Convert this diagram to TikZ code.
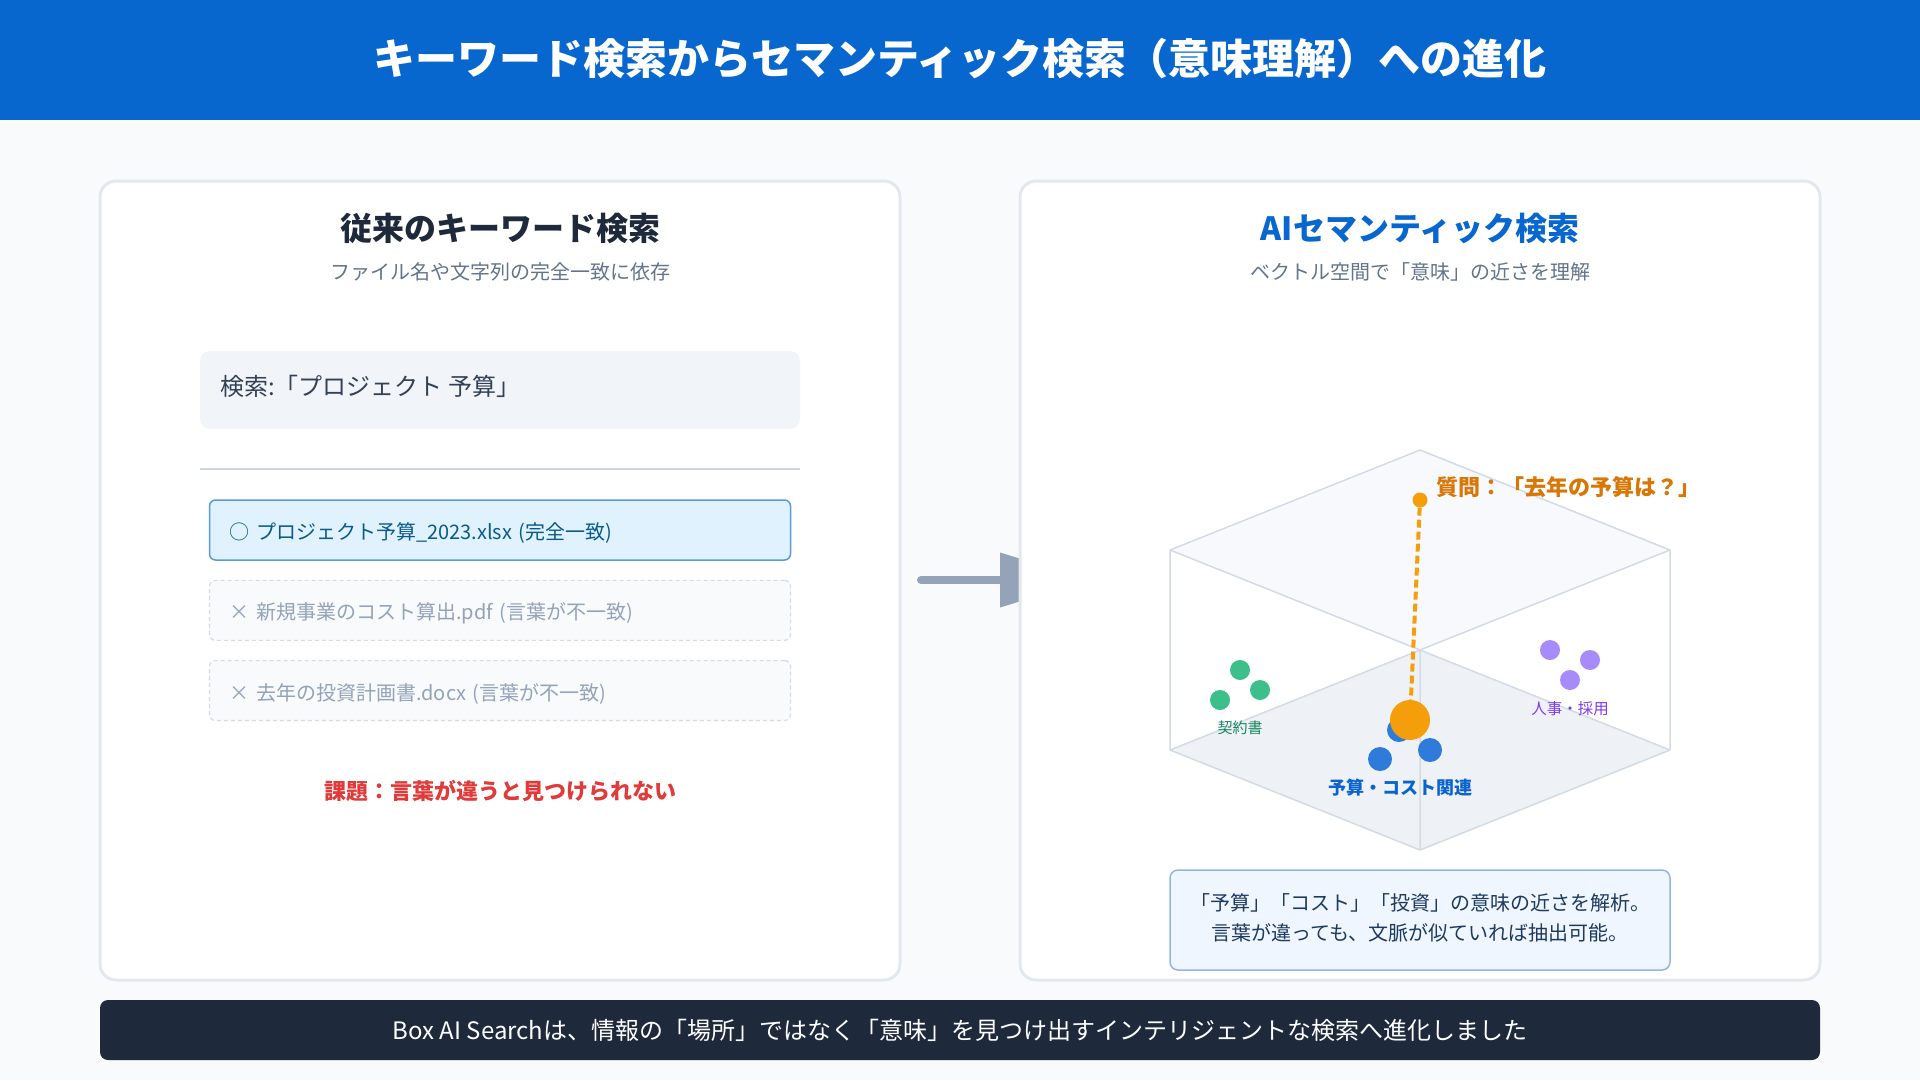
\documentclass[tikz,border=0pt]{standalone}
\usepackage{fontspec}
\setmainfont{Noto Sans CJK JP}
\usepackage{tikz}
\usetikzlibrary{positioning}
\definecolor{headblue}{HTML}{0866CF}
\definecolor{pagebg}{HTML}{F8FAFC}
\definecolor{panelline}{HTML}{E2E8F0}
\definecolor{inkdark}{HTML}{1E293B}
\definecolor{inkgray}{HTML}{64748B}
\definecolor{searchbg}{HTML}{F1F5F9}
\definecolor{searchink}{HTML}{334155}
\definecolor{ruleline}{HTML}{CBD5E1}
\definecolor{hitbg}{HTML}{E0F2FE}
\definecolor{hitline}{HTML}{5B9BD5}
\definecolor{hitink}{HTML}{0B5A8A}
\definecolor{missbg}{HTML}{F8FAFC}
\definecolor{missline}{HTML}{D5DCE4}
\definecolor{missink}{HTML}{94A3B8}
\definecolor{alertred}{HTML}{E03A3A}
\definecolor{arrowgray}{HTML}{94A3B8}
\definecolor{cubeline}{HTML}{D3DBE5}
\definecolor{topface}{HTML}{F7F9FC}
\definecolor{floorface}{HTML}{EEF2F7}
\definecolor{queryorange}{HTML}{F59E0B}
\definecolor{querylabel}{HTML}{D97706}
\definecolor{budgetblue}{HTML}{2F7BDA}
\definecolor{budgetlabel}{HTML}{0B63CE}
\definecolor{contractgreen}{HTML}{3DBF8C}
\definecolor{contractlabel}{HTML}{17855C}
\definecolor{hrpurple}{HTML}{A78BFA}
\definecolor{hrlabel}{HTML}{7C3AED}
\definecolor{notebg}{HTML}{EFF6FF}
\definecolor{noteline}{HTML}{93B5E1}
\definecolor{noteink}{HTML}{1E3A5F}
\definecolor{footbg}{HTML}{1E293B}
\newcommand{\fsz}[1]{\fontsize{#1}{#1}\selectfont}

\begin{document}
\begin{tikzpicture}[x=1pt,y=-1pt,
    panel box/.style={rectangle,draw=panelline,line width=3pt,fill=white,rounded corners=16pt,minimum width=800pt,minimum height=799pt},
    panel title/.style={inner sep=0pt,font=\fsz{32}\bfseries},
    panel sub/.style={inner sep=0pt,font=\fsz{20},text=inkgray},
    search box/.style={rectangle,fill=searchbg,rounded corners=10pt,minimum width=600pt,minimum height=78pt},
    search text/.style={inner sep=0pt,anchor=west,font=\fsz{24},text=searchink},
    result box/.style={rectangle,rounded corners=6pt,minimum height=60pt,text width=541pt,text height=21pt,text depth=2pt,inner xsep=20pt,align=left,font=\fsz{20}},
    hit box/.style={result box,fill=hitbg,draw=hitline,line width=1.5pt,text=hitink},
    miss box/.style={result box,fill=missbg,draw=missline,line width=1.2pt,dash pattern=on 4pt off 3pt,text=missink},
    flow shaft/.style={draw=arrowgray,line width=8pt,line cap=round},
    cube edge/.style={draw=cubeline,line width=1.5pt,line join=round},
    vec dot/.style={circle,inner sep=0pt,minimum size=#1},
    query link/.style={draw=queryorange,line width=4pt,dash pattern=on 8pt off 4pt},
    tag/.style={inner sep=0pt,font=\fsz{15}},
    note box/.style={rectangle,fill=notebg,draw=noteline,line width=1.5pt,rounded corners=8pt,minimum width=500pt,minimum height=100pt},
    note text/.style={inner sep=0pt,align=center,font=\fontsize{20}{30}\selectfont,text=noteink},
    footer bar/.style={rectangle,fill=footbg,rounded corners=8pt,minimum width=1720pt,minimum height=60pt,font=\fsz{24},text=white}]

            \useasboundingbox (0,0) rectangle (1920,1080);
            \fill[pagebg] (0,0) rectangle (1920,1080);
            \fill[headblue] (0,0) rectangle (1920,120);
            \node[inner sep=0pt,font=\fsz{42}\bfseries,text=white] (headline) at (960,59) {キーワード検索からセマンティック検索（意味理解）への進化};

            \node[panel box] (leftpanel) at (500,580.5) {};
            \node[panel title,text=inkdark] (lefttitle) at (500,228) {従来のキーワード検索};
            \node[panel sub] (leftsub) at (500,272) {ファイル名や文字列の完全一致に依存};
            \node[search box] (searchfield) at (500,390) {};
            \node[search text] (searchtext) at (220,386) {検索:「プロジェクト 予算」};
            \draw[ruleline,line width=2pt] (200,469) -- (800,469);
            \node[hit box] (res1) at (500,530) {○ プロジェクト予算\_2023.xlsx (完全一致)};
            \node[miss box] (res2) [below=19pt of res1] {× 新規事業のコスト算出.pdf (言葉が不一致)};
            \node[miss box] (res3) [below=19pt of res2] {× 去年の投資計画書.docx (言葉が不一致)};
            \node[inner sep=0pt,font=\fsz{22}\bfseries,text=alertred] (issue) at (500,791) {課題：言葉が違うと見つけられない};

            \coordinate (shaftstart) at (921,580);
            \coordinate (headbase) at (1000,580);
            \draw[flow shaft] (shaftstart) -- (headbase);
            \fill[arrowgray] ([yshift=27.5pt]headbase) -- ++(90,27.5) -- ([yshift=-27.5pt]headbase) -- cycle;

            \node[panel box] (rightpanel) at (1420,580.5) {};
            \node[panel title,text=headblue] (righttitle) at (1420,228) {AIセマンティック検索};
            \node[panel sub] (rightsub) at (1420,272) {ベクトル空間で「意味」の近さを理解};

            \coordinate (cubetop) at (1420,450);
            \coordinate (cubeleft) at (1170,550);
            \coordinate (cuberight) at (1670,550);
            \coordinate (cubemid) at (1420,650);
            \coordinate (floorleft) at (1170,750);
            \coordinate (floorright) at (1670,750);
            \coordinate (floorfront) at (1420,850);
            \fill[topface] (cubetop) -- (cubeleft) -- (cubemid) -- (cuberight) -- cycle;
            \fill[floorface] (floorleft) -- (cubemid) -- (floorright) -- (floorfront) -- cycle;
            \draw[cube edge] (cubetop) -- (cubeleft) -- (cubemid) -- (cuberight) -- cycle
                (floorleft) -- (cubemid) -- (floorright) -- (floorfront) -- cycle
                (cubeleft) -- (floorleft) (cuberight) -- (floorright) (cubemid) -- (floorfront);

            \node[vec dot=20pt,fill=contractgreen] (ct1) at (1240,670) {};
            \node[vec dot=20pt,fill=contractgreen] (ct2) at (1260,690) {};
            \node[vec dot=20pt,fill=contractgreen] (ct3) at (1220,700) {};
            \node[tag,text=contractlabel] (contractname) at (1240,728) {契約書};

            \node[vec dot=20pt,fill=hrpurple] (hr1) at (1550,650) {};
            \node[vec dot=20pt,fill=hrpurple] (hr2) at (1590,660) {};
            \node[vec dot=20pt,fill=hrpurple] (hr3) at (1570,680) {};
            \node[tag,text=hrlabel,font=\fsz{15.5}] (hrname) at (1570,709) {人事・採用};

            \node[vec dot=24pt,fill=budgetblue] (bd1) at (1399,730) {};
            \node[vec dot=40pt,fill=queryorange] (answer) at (1410,720) {};
            \node[vec dot=24pt,fill=budgetblue] (bd2) at (1380,759) {};
            \node[vec dot=24pt,fill=budgetblue] (bd3) at (1430,750) {};
            \node[tag,text=budgetlabel,font=\fsz{18}\bfseries] (budgetname) at (1400,788) {予算・コスト関連};

            \node[vec dot=15pt,fill=queryorange] (query) at (1420,500) {};
            \node[tag,text=querylabel,font=\fsz{22}\bfseries,anchor=west] (querytext) at (1436,487) {質問：「去年の予算は？」};
            \draw[query link] (query) -- (answer);

            \node[note box] (note) at (1420,920) {};
            \node[note text] (notetext) at (1420,917.5) {「予算」「コスト」「投資」の意味の近さを解析。\\言葉が違っても、文脈が似ていれば抽出可能。};

            \node[footer bar] (footer) at (960,1030) {Box AI Searchは、情報の「場所」ではなく「意味」を見つけ出すインテリジェントな検索へ進化しました};

\end{tikzpicture}
\end{document}
